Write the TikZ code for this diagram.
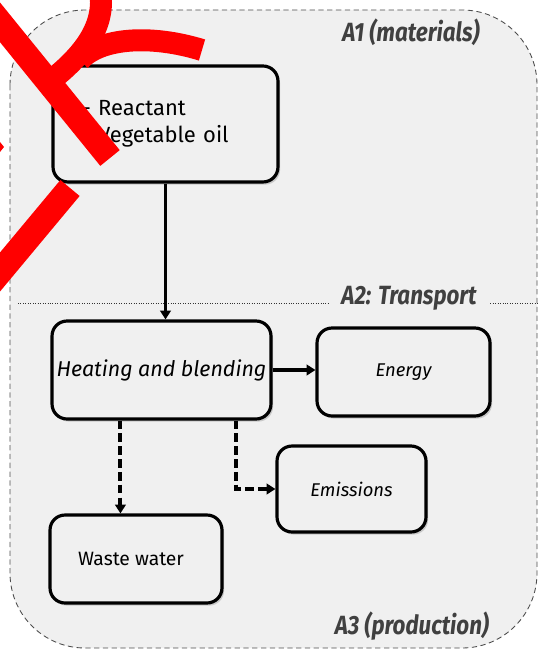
\documentclass[tikz,border=0pt]{standalone}
\usepackage{fontspec}
\setmainfont{Fira Sans}
\newfontfamily\zonefont{Fira Sans}[FakeStretch=0.85]
\usetikzlibrary{positioning}
\usetikzlibrary{arrows.meta}
\usetikzlibrary{shadows}
\definecolor{zonegray}{HTML}{F0F0F0}
\definecolor{zonetext}{HTML}{404040}
\definecolor{markred}{HTML}{FF0000}
\tikzset {
  % process boxes
  box/.style = {draw, line width=1.8pt, rounded corners=0.3cm, fill=zonegray,
    drop shadow={shadow xshift=1.2pt, shadow yshift=-1.5pt, opacity=0.35},
    inner sep=0pt, align=center},
  % dashed frame of the stages
  zone/.style = {draw=black!70, line width=0.5pt, dash pattern=on 3pt off 2pt,
    fill=zonegray, rounded corners=1.5cm},
  zonelabel/.style = {text=zonetext, inner xsep=0.24cm, inner ysep=1pt,
    font=\zonefont\bfseries\itshape\fontsize{15}{17}\selectfont},
  flow/.style = {line width=2pt, -{Triangle[length=5pt, width=6pt]}},
  waste/.style = {flow, line width=2.2pt, dash pattern=on 5pt off 2.3pt},
  redmark/.style = {markred, line width=0.5cm},
}

\begin{document}
\begin{tikzpicture}[x=0.02cm, y=-0.02cm]
        \useasboundingbox (0,0) rectangle (538,651);
        \draw[zone] (10,10) rectangle (537,648);

        % stage borders
        \coordinate (a2l) at (18,303);
        \coordinate (a2r) at (538,303);
        \draw[black!80, line width=0.4pt, densely dotted] (a2l) -- (a2r);
        \node[zonelabel] (a1) at (411,32) {A1 (materials)};
        \node[zonelabel, fill=zonegray] (a2) at (409,298) {A2: Transport};
        \node[zonelabel] (a3) at (412,626) {A3 (production)};

        \node[box, minimum width=4.5cm, minimum height=2.32cm, align=left,
          text width=3.34cm, font=\fontsize{12.5}{15.5}\selectfont] (reactant) at (165.5,124)
          {- Reactant\\- Vegetable oil};
        \node[box, minimum width=4.38cm, minimum height=1.96cm,
          font=\itshape\fontsize{12.2}{14}\selectfont] (heating) at (161.5,370) {Heating and blending};
        \node[box, minimum width=3.46cm, minimum height=1.76cm,
          font=\itshape\fontsize{10.5}{12}\selectfont] (energy) at (403.5,372) {Energy};
        \node[box, minimum width=2.98cm, minimum height=1.72cm,
          font=\itshape\fontsize{10.5}{12}\selectfont] (emissions) at (351.5,489) {Emissions};
        \node[box, minimum width=3.44cm, minimum height=1.76cm,
          font=\fontsize{11}{13}\selectfont] (water) at (136,559) {\hspace{-0.2cm}Waste water};

        \draw[flow] (reactant.south) -- (reactant.south |- heating.north);
        \draw[flow] (heating.east) -- (heating.east -| energy.west);
        \draw[waste] ([xshift=1.4cm]heating.south west) -- ([xshift=1.4cm]heating.south west |- water.north);
        \draw[waste] ([xshift=3.72cm]heating.south west) |- (emissions.west);

        % red marks drawn over the top left
        \begin{scope}
          \clip (0,0) rectangle (538,651);
          \draw[redmark] (-10,10) -- (110,158);
          \draw[redmark] (70,188) -- (-10,284);
          \draw[redmark, line width=0.44cm] (100,-10) .. controls (106,25) and (85,55) .. (45,85);
          \draw[redmark, line width=0.44cm] (80,60) .. controls (100,38) and (150,34) .. (202,50);
          \fill[markred] (0,142) -- (4,147) -- (0,152) -- cycle;
        \end{scope}
      \end{tikzpicture}
\end{document}
